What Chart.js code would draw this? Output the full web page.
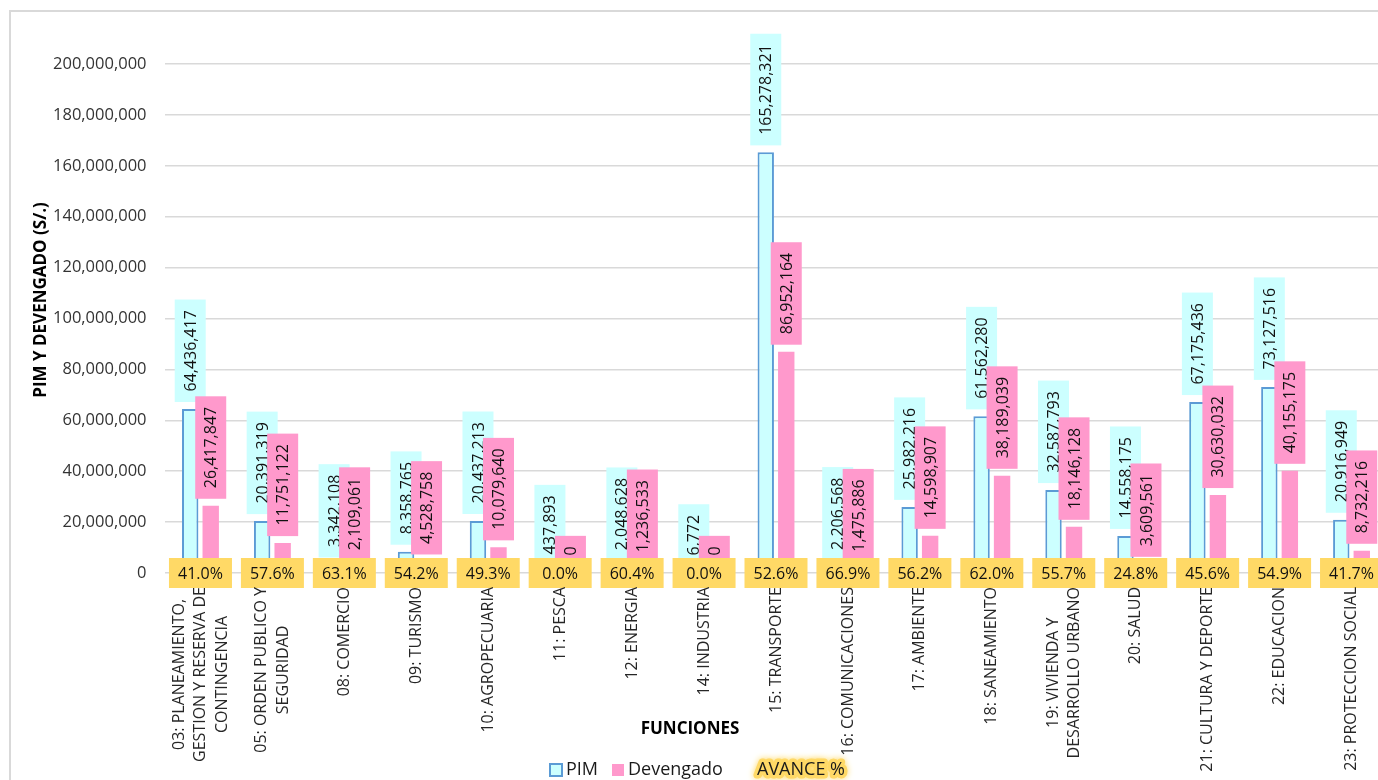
<!DOCTYPE html>
<html>
<head>
<meta charset="utf-8">
<script src="https://cdn.jsdelivr.net/npm/chart.js@4.4.0/dist/chart.umd.min.js"></script>
<style>
  html, body { margin: 0; padding: 0; background: #fff; overflow: hidden; }
  #wrap { position: relative; width: 1378px; height: 780px; overflow: hidden; }
  #frame { position: absolute; left: 9px; top: 10px; width: 1420px; height: 820px; border: 2px solid #d9d9d9; box-sizing: border-box; }
  #grafico { position: absolute; left: 0; top: 0; }
</style>
</head>
<body>
<div id="wrap">
  <div id="frame"></div>
  <canvas id="grafico" width="1400" height="780"></canvas>
</div>
<script>
// categorias (funciones), una linea por renglon de la etiqueta
const funciones = [
  ['03: PLANEAMIENTO,', 'GESTION Y RESERVA DE', 'CONTINGENCIA'],
  ['05: ORDEN PUBLICO Y', 'SEGURIDAD'],
  ['08: COMERCIO'],
  ['09: TURISMO'],
  ['10: AGROPECUARIA'],
  ['11: PESCA'],
  ['12: ENERGIA'],
  ['14: INDUSTRIA'],
  ['15: TRANSPORTE'],
  ['16: COMUNICACIONES'],
  ['17: AMBIENTE'],
  ['18: SANEAMIENTO'],
  ['19: VIVIENDA Y', 'DESARROLLO URBANO'],
  ['20: SALUD'],
  ['21: CULTURA Y DEPORTE'],
  ['22: EDUCACION'],
  ['23: PROTECCION SOCIAL']
];

const pim = [64436417, 20391319, 3342108, 8358765, 20437213, 437893, 2048628, 6772,
  165278321, 2206568, 25982216, 61562280, 32587793, 14558175, 67175436, 73127516, 20916949];

const devengado = [26417847, 11751122, 2109061, 4528758, 10079640, 0, 1236533, 0,
  86952164, 1475886, 14598907, 38189039, 18146128, 3609561, 30630032, 40155175, 8732216];

const avance = [41.0, 57.6, 63.1, 54.2, 49.3, 0.0, 60.4, 0.0,
  52.6, 66.9, 56.2, 62.0, 55.7, 24.8, 45.6, 54.9, 41.7];

// eje y
const yMin = 0;
const yMax = 200000000;
const yPaso = 20000000;

const FUENTE = '"Open Sans", "Noto Sans", sans-serif';

function fmt(n) {
  return n.toLocaleString('en-US');
}

// etiquetas de datos, ejes y leyenda dibujados a mano
const etiquetas = {
  id: 'etiquetas',
  afterDatasetsDraw(chart) {
    const ctx = chart.ctx;
    const y0 = chart.scales.y.getPixelForValue(0);
    ctx.save();
    ctx.font = '16px ' + FUENTE;

    // PIM y Devengado: cajas rotadas encima de cada barra
    [0, 1].forEach(d => {
      const meta = chart.getDatasetMeta(d);
      const relleno = d === 0 ? '#CCFFFF' : '#FF99CC';
      meta.data.forEach((bar, i) => {
        const txt = fmt(chart.data.datasets[d].data[i]);
        const w = ctx.measureText(txt).width;
        const h = w + 21;
        const bw = 31;
        const abajo = bar.y - 7;
        ctx.fillStyle = relleno;
        ctx.fillRect(bar.x - bw / 2, abajo - h, bw, h);
        ctx.save();
        ctx.translate(bar.x + 1, abajo - h / 2);
        ctx.rotate(-Math.PI / 2);
        ctx.fillStyle = '#111';
        ctx.textAlign = 'center';
        ctx.textBaseline = 'middle';
        ctx.fillText(txt, 0, 0);
        ctx.restore();
      });
    });

    // AVANCE %: cajas amarillas sobre la linea de cero
    const metaAv = chart.getDatasetMeta(2);
    metaAv.data.forEach((pt, i) => {
      const txt = chart.data.datasets[2].data[i].toFixed(1) + '%';
      ctx.fillStyle = '#FFD966';
      ctx.fillRect(pt.x - 31.5, y0 - 15, 63, 30);
      ctx.fillStyle = '#111';
      ctx.textAlign = 'center';
      ctx.textBaseline = 'middle';
      ctx.fillText(txt, pt.x, y0 + 1);
    });
    ctx.restore();
  },
  afterDraw(chart) {
    const ctx = chart.ctx;
    const xs = chart.scales.x;
    ctx.save();

    // etiquetas del eje x, rotadas, renglones centrados entre si
    ctx.font = '16px ' + FUENTE;
    ctx.fillStyle = '#262626';
    ctx.textBaseline = 'middle';
    ctx.textAlign = 'center';
    const arriba = 587;
    const interlinea = 21.5;
    funciones.forEach((lineas, i) => {
      const cx = xs.getPixelForValue(i);
      let ancho = 0;
      lineas.forEach(l => { ancho = Math.max(ancho, ctx.measureText(l).width); });
      lineas.forEach((l, j) => {
        const off = (j - (lineas.length - 1) / 2) * interlinea;
        ctx.save();
        ctx.translate(cx + off, arriba);
        ctx.rotate(-Math.PI / 2);
        ctx.fillText(l, -ancho / 2, 0);
        ctx.restore();
      });
    });

    // titulos de los ejes
    ctx.font = 'bold 17px ' + FUENTE;
    ctx.fillStyle = '#000';
    ctx.save();
    ctx.translate(41, 300);
    ctx.rotate(-Math.PI / 2);
    ctx.fillText('PIM Y DEVENGADO (S/.)', 0, 0);
    ctx.restore();
    ctx.fillText('FUNCIONES', 690, 729);

    // leyenda
    const ly = 770;
    ctx.font = '18px ' + FUENTE;
    ctx.textAlign = 'left';
    ctx.fillStyle = '#CCFFFF';
    ctx.fillRect(550, ly - 6, 12, 12);
    ctx.strokeStyle = '#5B9BD5';
    ctx.lineWidth = 2;
    ctx.strokeRect(550, ly - 6, 12, 12);
    ctx.fillStyle = '#1a1a1a';
    ctx.fillText(chart.data.datasets[0].label, 566, ly);
    ctx.fillStyle = '#FF99CC';
    ctx.fillRect(612, ly - 6, 12, 12);
    ctx.fillStyle = '#1a1a1a';
    ctx.fillText(chart.data.datasets[1].label, 628, ly);

    const txtAv = chart.data.datasets[2].label;
    ctx.save();
    ctx.shadowColor = '#FFD966';
    ctx.shadowBlur = 6;
    ctx.strokeStyle = '#FFD966';
    ctx.lineWidth = 7;
    ctx.lineJoin = 'round';
    ctx.strokeText(txtAv, 757, ly);
    ctx.restore();
    ctx.fillStyle = '#1a1a1a';
    ctx.fillText(txtAv, 757, ly);

    ctx.restore();
  }
};

const chart = new Chart(document.getElementById('grafico').getContext('2d'), {
  type: 'bar',
  data: {
    labels: funciones.map(l => l.join(' ')),
    datasets: [
      {
        label: 'PIM',
        data: pim,
        backgroundColor: '#CCFFFF',
        borderColor: '#5B9BD5',
        borderWidth: 2,
        barPercentage: 0.8,
        categoryPercentage: 0.57
      },
      {
        label: 'Devengado',
        data: devengado,
        backgroundColor: '#FF99CC',
        borderWidth: 0,
        barPercentage: 0.8,
        categoryPercentage: 0.57
      },
      {
        type: 'line',
        label: 'AVANCE %',
        data: avance,
        yAxisID: 'yAv',
        showLine: false,
        pointRadius: 0,
        pointHoverRadius: 0
      }
    ]
  },
  options: {
    responsive: false,
    animation: false,
    layout: { padding: { top: 64, right: 12.5, bottom: 0, left: 0 } },
    plugins: {
      legend: { display: false },
      tooltip: { enabled: false },
      title: { display: false }
    },
    scales: {
      x: {
        grid: { display: false },
        border: { display: false },
        ticks: { display: false },
        afterFit: s => { s.height = 207; }
      },
      y: {
        min: yMin,
        max: yMax,
        grid: { color: '#d9d9d9', lineWidth: 1.5, drawTicks: false },
        border: { display: false },
        ticks: {
          stepSize: yPaso,
          padding: 18,
          color: '#333',
          font: { family: FUENTE, size: 16.5 },
          callback: v => fmt(v)
        },
        afterFit: s => { s.width = 164.5; }
      },
      yAv: {
        display: false,
        min: 0,
        max: 100
      }
    }
  },
  plugins: [etiquetas]
});
</script>
</body>
</html>
